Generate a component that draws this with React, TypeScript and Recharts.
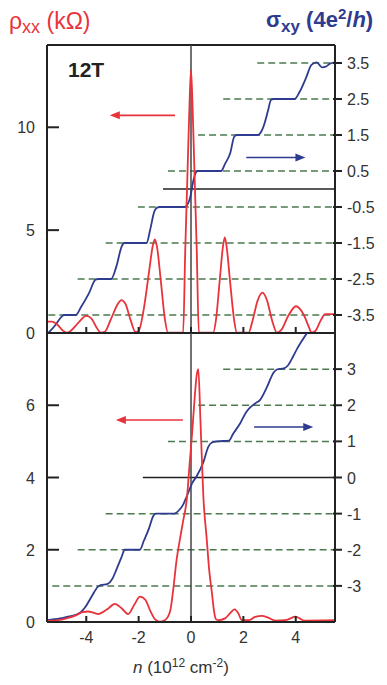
import React from 'react';
import { ComposedChart, Line, XAxis, YAxis, ReferenceLine } from 'recharts';

const FONT = '"Liberation Sans", Arial, Helvetica, sans-serif';
const RED = '#e8333a';
const BLUE = '#2f3b8e';
const DASH = '#4b7b4f';
const INK = '#222';

// carrier density n (10^12 cm^-2)
const nTicks = [-4, -2, 0, 2, 4];

// top panel (12T): rho_xx in kOhm, sigma_xy in 4e^2/h
const topRhoTicks = [0, 5, 10];
const topSigmaTicks = [-3.5, -2.5, -1.5, -0.5, 0.5, 1.5, 2.5, 3.5];
const topPlateauStart = [-5.45, -4.33, -3.26, -2.03, -0.88, 0.27, 1.23, 2.53];
const topZeroStart = -1.07;

const topRhoN = [-5.5, -5.3, -5.1, -4.9, -4.75, -4.6, -4.3, -4.0, -3.8, -3.6, -3.45, -3.3, -3.05, -2.8, -2.66, -2.5, -2.3, -2.12, -2.0, -1.8, -1.6, -1.45, -1.38, -1.3, -1.15, -1.0, -0.88, -0.3, -0.22, -0.14, -0.06, 0, 0.06, 0.14, 0.22, 0.3, 0.85, 0.95, 1.1, 1.22, 1.29, 1.36, 1.5, 1.65, 1.75, 2.2, 2.35, 2.55, 2.73, 2.9, 3.1, 3.28, 3.45, 3.7, 4.01, 4.3, 4.5, 4.6, 4.75, 4.95, 5.13, 5.5];
const topRho = [0.55, 0.55, 0.4, 0.12, 0.02, 0.1, 0.5, 0.83, 0.7, 0.25, 0.02, 0.05, 0.7, 1.4, 1.6, 1.4, 0.6, 0.05, 0.1, 1.2, 3.0, 4.3, 4.55, 4.2, 2.5, 0.7, 0.02, 0.02, 4.0, 7.5, 11.0, 12.8, 11.0, 7.5, 4.0, 0.02, 0.02, 0.6, 2.6, 4.2, 4.65, 4.2, 2.4, 0.6, 0.02, 0.02, 0.6, 1.6, 1.96, 1.6, 0.6, 0.02, 0.15, 0.8, 1.3, 0.9, 0.3, 0.02, 0.1, 0.6, 0.92, 0.92];

const topSigmaN = [-5.45, -5.2, -4.95, -4.85, -4.4, -4.2, -3.9, -3.65, -3.55, -3.05, -2.85, -2.65, -2.55, -1.7, -1.55, -1.4, -1.3, -1.2, -0.25, -0.1, -0.02, 0.08, 0.18, 0.25, 1.15, 1.3, 1.5, 1.65, 1.75, 2.55, 2.75, 2.95, 3.05, 3.15, 3.95, 4.15, 4.4, 4.6, 4.8, 5.0, 5.15, 5.3, 5.5];
const topSigma = [-4.0, -3.8, -3.55, -3.5, -3.5, -3.28, -2.9, -2.52, -2.5, -2.5, -2.15, -1.6, -1.5, -1.5, -1.1, -0.62, -0.52, -0.5, -0.5, -0.38, -0.2, 0.2, 0.45, 0.5, 0.5, 0.7, 1.0, 1.45, 1.5, 1.5, 1.7, 2.2, 2.47, 2.5, 2.5, 2.7, 3.1, 3.45, 3.52, 3.38, 3.4, 3.48, 3.52];

// bottom panel
const botRhoTicks = [0, 2, 4, 6];
const botSigmaTicks = [-3, -2, -1, 0, 1, 2, 3];
const botPlateauLevels = [-3, -2, -1, 1, 2, 3];
const botPlateauStart = [-5.3, -4.33, -3.26, -0.88, 0.27, 1.23];
const botZeroStart = -1.84;

const botRhoN = [-5.5, -5.0, -4.76, -4.38, -4.15, -3.93, -3.7, -3.55, -3.2, -2.91, -2.65, -2.4, -2.15, -1.95, -1.75, -1.55, -1.38, -1.19, -1.0, -0.8, -0.68, -0.55, -0.42, -0.3, -0.16, -0.05, 0.05, 0.15, 0.22, 0.28, 0.36, 0.47, 0.6, 0.7, 0.8, 0.88, 0.95, 1.05, 1.3, 1.5, 1.66, 1.8, 1.94, 2.2, 2.45, 2.71, 2.95, 3.22, 3.6, 3.8, 3.98, 4.15, 4.3, 5.5];
const botRho = [0.03, 0.06, 0.1, 0.19, 0.27, 0.29, 0.25, 0.22, 0.35, 0.5, 0.38, 0.22, 0.5, 0.7, 0.62, 0.3, 0.08, 0.01, 0.05, 0.29, 0.89, 1.72, 2.3, 2.8, 3.4, 4.4, 5.3, 6.3, 6.85, 7.0, 5.6, 3.5, 2.3, 1.4, 0.8, 0.3, 0.08, 0.05, 0.1, 0.25, 0.35, 0.25, 0.05, 0.05, 0.14, 0.17, 0.12, 0.04, 0.05, 0.1, 0.15, 0.1, 0.04, 0.05];

const botSigmaN = [-5.5, -5.0, -4.75, -4.4, -4.2, -4.05, -3.8, -3.55, -3.45, -3.2, -3.0, -2.85, -2.65, -2.53, -1.95, -1.8, -1.6, -1.45, -1.35, -0.65, -0.45, -0.3, -0.15, 0.05, 0.22, 0.47, 0.66, 0.8, 1.0, 1.45, 1.6, 1.88, 2.1, 2.26, 2.45, 2.64, 2.9, 3.15, 3.28, 3.55, 3.7, 3.9, 4.05, 4.25, 4.43];
const botSigma = [-3.95, -3.9, -3.86, -3.8, -3.72, -3.6, -3.3, -3.02, -2.98, -2.95, -2.8, -2.55, -2.2, -2.0, -2.0, -1.75, -1.4, -1.08, -1.0, -1.0, -0.9, -0.75, -0.5, -0.15, 0.04, 0.42, 0.85, 0.97, 1.0, 1.02, 1.2, 1.5, 1.8, 1.94, 2.05, 2.15, 2.5, 2.9, 2.99, 3.02, 3.1, 3.35, 3.56, 3.8, 4.0];

// arrows: [from n, to n, level]
const topRhoArrow = [-0.61, -3.1, 10.58];
const topSigmaArrow = [2.11, 4.37, 0.875];
const botRhoArrow = [-0.31, -2.87, 5.59];
const botSigmaArrow = [2.41, 4.67, 1.4];

const zip = (xs: number[], ys: number[]) => xs.map((n, i) => ({ n, v: ys[i] }));

const LeftTick = (p: any) => (
  <g>
    <line x1={p.x} y1={p.y} x2={p.x + 12} y2={p.y} stroke={INK} strokeWidth={2} />
    <text x={p.x - 12} y={p.y + 6} textAnchor="end" fontSize={16} fill="#333" fontFamily={FONT}>
      {p.payload.value}
    </text>
  </g>
);

const RightTick = (p: any) => (
  <g>
    <line x1={p.x - 2} y1={p.y} x2={p.x + 7} y2={p.y} stroke={INK} strokeWidth={2} />
    <text x={p.x + 12} y={p.y + 6} textAnchor="start" fontSize={16} fill="#333" fontFamily={FONT}>
      {p.payload.value}
    </text>
  </g>
);

const InnerXTick = (p: any) => (
  <line x1={p.x} y1={p.y} x2={p.x} y2={p.y - 6} stroke={INK} strokeWidth={2} />
);

const LabelXTick = (p: any) => (
  <g>
    <line x1={p.x} y1={p.y} x2={p.x} y2={p.y - 6} stroke={INK} strokeWidth={2} />
    <text x={p.x} y={p.y + 21} textAnchor="middle" fontSize={16} fill="#333" fontFamily={FONT}>
      {p.payload.value}
    </text>
  </g>
);

const arrowShape = (color: string) => (p: any) => {
  const { x1, y1, x2, y2 } = p;
  const dir = x2 > x1 ? 1 : -1;
  return (
    <g>
      <line x1={x1} y1={y1} x2={x2 - dir * 6} y2={y2} stroke={color} strokeWidth={1.6} />
      <polygon points={`${x2},${y2} ${x2 - dir * 10},${y2 - 4} ${x2 - dir * 10},${y2 + 4}`} fill={color} />
    </g>
  );
};

const arrow = (a: number[], axis: string, color: string) => (
  <ReferenceLine
    yAxisId={axis}
    segment={[{ x: a[0], y: a[2] }, { x: a[1], y: a[2] }]}
    shape={arrowShape(color)}
  />
);

const dashed = (levels: number[], starts: number[]) =>
  levels.map((lv, i) => (
    <ReferenceLine
      key={'d' + i}
      yAxisId="right"
      segment={[{ x: starts[i], y: lv }, { x: 5.5, y: lv }]}
      stroke={DASH}
      strokeWidth={1.5}
      strokeDasharray="7 4"
    />
  ));

const axisLine = { stroke: INK, strokeWidth: 2 };

export default function App() {
  return (
    <div style={{ position: 'absolute', left: 0, top: 0, width: 387, height: 685, background: '#fff', fontFamily: FONT }}>
      <div style={{ position: 'absolute', left: 9, top: 8, fontSize: 23, color: RED, whiteSpace: 'nowrap', lineHeight: '26px' }}>
        ρ<span style={{ fontSize: 18, position: 'relative', top: 4 }}>xx</span> (kΩ)
      </div>
      <div style={{ position: 'absolute', left: 266, top: 7, fontSize: 22, fontWeight: 'bold', color: BLUE, whiteSpace: 'nowrap', lineHeight: '26px' }}>
        σ<span style={{ fontSize: 17, position: 'relative', top: 5 }}>xy</span> (4e<span style={{ fontSize: 15, position: 'relative', top: -8 }}>2</span>/<i>h</i>)
      </div>

      <div style={{ position: 'absolute', left: 0, top: 0 }}>
        <ComposedChart width={387} height={352} margin={{ top: 45, right: 0, bottom: 0, left: 0 }}>
          <XAxis dataKey="n" type="number" domain={[-5.5, 5.5]} ticks={nTicks} interval={0} allowDataOverflow height={19}
            axisLine={axisLine} tickLine={false} tickSize={0} tickMargin={0} tick={InnerXTick} />
          <YAxis yAxisId="left" domain={[0, 14]} ticks={topRhoTicks} interval={0} width={47}
            axisLine={axisLine} tickLine={false} tickSize={0} tickMargin={0} tick={LeftTick} />
          <YAxis yAxisId="right" orientation="right" domain={[-4, 4]} ticks={topSigmaTicks} interval={0} width={52}
            axisLine={axisLine} tickLine={false} tickSize={0} tickMargin={0} tick={RightTick} />
          <ReferenceLine yAxisId="left" y={14} stroke={INK} strokeWidth={2} />
          {dashed(topSigmaTicks, topPlateauStart)}
          <ReferenceLine yAxisId="right" segment={[{ x: topZeroStart, y: 0 }, { x: 5.5, y: 0 }]} stroke={INK} strokeWidth={1.5} />
          <ReferenceLine yAxisId="left" x={0} stroke="#444" strokeWidth={1.5} />
          <Line data={zip(topSigmaN, topSigma)} yAxisId="right" dataKey="v" type="monotone" stroke={BLUE}
            strokeWidth={1.8} dot={false} isAnimationActive={false} />
          <Line data={zip(topRhoN, topRho)} yAxisId="left" dataKey="v" type="monotone" stroke={RED}
            strokeWidth={1.8} dot={false} isAnimationActive={false} />
          {arrow(topRhoArrow, 'left', RED)}
          {arrow(topSigmaArrow, 'right', BLUE)}
        </ComposedChart>
      </div>

      <div style={{ position: 'absolute', left: 68, top: 58, fontSize: 21, fontWeight: 'bold', color: INK }}>12T</div>

      <div style={{ position: 'absolute', left: 0, top: 333 }}>
        <ComposedChart width={387} height={352} margin={{ top: 0, right: 0, bottom: 0, left: 0 }}>
          <XAxis dataKey="n" type="number" domain={[-5.5, 5.5]} ticks={nTicks} interval={0} allowDataOverflow height={63}
            axisLine={axisLine} tickLine={false} tickSize={0} tickMargin={0} tick={LabelXTick} />
          <YAxis yAxisId="left" domain={[0, 8]} ticks={botRhoTicks} interval={0} width={47}
            axisLine={axisLine} tickLine={false} tickSize={0} tickMargin={0} tick={LeftTick} />
          <YAxis yAxisId="right" orientation="right" domain={[-4, 4]} ticks={botSigmaTicks} interval={0} width={52}
            axisLine={axisLine} tickLine={false} tickSize={0} tickMargin={0} tick={RightTick} />
          {dashed(botPlateauLevels, botPlateauStart)}
          <ReferenceLine yAxisId="right" segment={[{ x: botZeroStart, y: 0 }, { x: 5.5, y: 0 }]} stroke={INK} strokeWidth={1.5} />
          <ReferenceLine yAxisId="left" x={0} stroke="#444" strokeWidth={1.5} />
          <Line data={zip(botSigmaN, botSigma)} yAxisId="right" dataKey="v" type="monotone" stroke={BLUE}
            strokeWidth={1.8} dot={false} isAnimationActive={false} />
          <Line data={zip(botRhoN, botRho)} yAxisId="left" dataKey="v" type="monotone" stroke={RED}
            strokeWidth={1.8} dot={false} isAnimationActive={false} />
          {arrow(botRhoArrow, 'left', RED)}
          {arrow(botSigmaArrow, 'right', BLUE)}
        </ComposedChart>
      </div>

      <div style={{ position: 'absolute', left: 133, top: 657, fontSize: 17, color: '#333', whiteSpace: 'nowrap', lineHeight: '22px' }}>
        <i>n</i> (10<span style={{ fontSize: 12, position: 'relative', top: -6 }}>12</span> cm<span style={{ fontSize: 12, position: 'relative', top: -6 }}>-2</span>)
      </div>
    </div>
  );
}
